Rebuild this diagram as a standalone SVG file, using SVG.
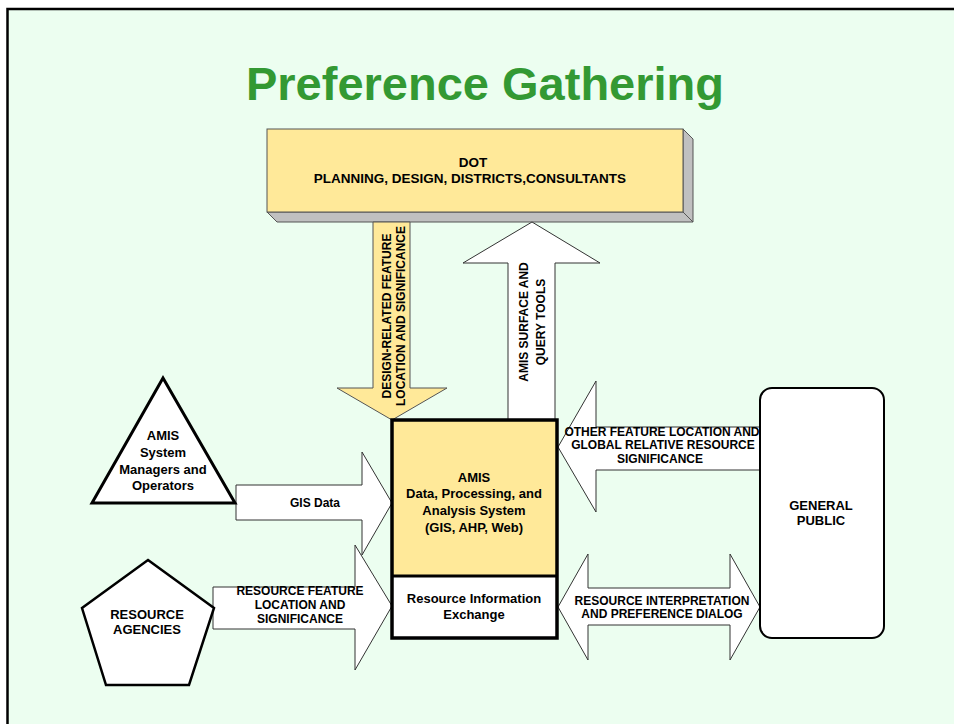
<svg xmlns="http://www.w3.org/2000/svg" width="954" height="724" viewBox="0 0 954 724">
<style>
  text { font-family: "Liberation Sans", Arial, sans-serif; font-weight: bold; fill: #000; }
  .t12 { font-size: 12px; }
  .t13 { font-size: 13px; }
  .mid { text-anchor: middle; }
  .arrow { fill: #FFFFFF; stroke: #333333; stroke-width: 1; stroke-linejoin: miter; }
  .yarrow { fill: #FFE999; stroke: #555555; stroke-width: 1; }
  .shape { fill: #FFFFFF; stroke: #000000; stroke-width: 3; stroke-linejoin: miter; }
</style>
<rect x="0" y="0" width="954" height="724" fill="#FFFFFF"/>
<rect x="7.5" y="9" width="960" height="730" fill="#ECFEF0" stroke="#000000" stroke-width="2.5"/>

<text x="485" y="100" class="mid" style="font-size:47px; fill:#339933;">Preference Gathering</text>

<g id="dot">
  <polygon points="683,129 693,139 693,222 683,212" fill="#C0C0C0" stroke="#555555" stroke-width="1"/>
  <polygon points="267,212 683,212 693,222 277,222" fill="#C0C0C0" stroke="#555555" stroke-width="1"/>
  <rect x="267" y="129" width="416" height="83" fill="#FFE999" stroke="#555555" stroke-width="1"/>
  <text x="473" y="167" class="mid" style="font-size:13.5px">DOT</text>
  <text x="470" y="183" class="mid" style="font-size:13.5px">PLANNING, DESIGN, DISTRICTS,CONSULTANTS</text>
</g>

<g id="connectors">
  <g id="arrow-design">
    <polygon class="yarrow" points="373,222 410,222 410,388 447,388 392,420 337,388 373,388"/>
    <text class="t12 mid" transform="translate(391,316) rotate(-90)">DESIGN-RELATED FEATURE</text>
    <text class="t12 mid" transform="translate(405,316) rotate(-90)">LOCATION AND SIGNIFICANCE</text>
  </g>
  <g id="arrow-surface">
    <polygon class="arrow" points="508,420 508,263 463,263 532,222 600,263 555,263 555,420"/>
    <text class="t12 mid" transform="translate(528,322) rotate(-90)">AMIS SURFACE AND</text>
    <text class="t12 mid" transform="translate(545,322) rotate(-90)">QUERY TOOLS</text>
  </g>
  <g id="arrow-other">
    <polygon class="arrow" points="558,447 596,381 596,427 760,427 760,470 596,470 596,512"/>
    <text x="662" y="436" class="t12 mid">OTHER FEATURE LOCATION AND</text>
    <text x="663" y="449" class="t12 mid">GLOBAL RELATIVE RESOURCE</text>
    <text x="660" y="463" class="t12 mid">SIGNIFICANCE</text>
  </g>
  <g id="arrow-dialog">
    <polygon class="arrow" points="558,607 588,554 588,588 730,588 730,554 760,607 730,660 730,625 588,625 588,660"/>
    <text x="662" y="605" class="t12 mid">RESOURCE INTERPRETATION</text>
    <text x="662" y="618" class="t12 mid">AND PREFERENCE DIALOG</text>
  </g>
  <g id="arrow-resource">
    <polygon class="arrow" points="213,587 355,587 355,545 392,606 355,670 355,629 213,629"/>
    <text x="300" y="595" class="t12 mid">RESOURCE FEATURE</text>
    <text x="300" y="609" class="t12 mid">LOCATION AND</text>
    <text x="300" y="623" class="t12 mid">SIGNIFICANCE</text>
  </g>
  <g id="arrow-gis">
    <polygon class="arrow" points="236,485 362,485 362,452 392,503 362,555 362,520 236,520"/>
    <text x="315" y="507" class="t12 mid">GIS Data</text>
  </g>
</g>

<g id="amis">
  <rect x="392" y="420" width="165" height="156" fill="#FFE999"/>
  <rect x="392" y="576" width="165" height="62" fill="#FFFFFF"/>
  <rect x="392" y="420" width="165" height="218" fill="none" stroke="#000000" stroke-width="3.5"/>
  <line x1="392" y1="576" x2="557" y2="576" stroke="#000000" stroke-width="3"/>
  <text x="474" y="482" class="t13 mid">AMIS</text>
  <text x="474" y="498" class="t13 mid">Data, Processing, and</text>
  <text x="474" y="515" class="t13 mid">Analysis System</text>
  <text x="474" y="532" class="t13 mid">(GIS, AHP, Web)</text>
</g>
<g id="exchange">
  <text x="474" y="603" class="t13 mid">Resource Information</text>
  <text x="474" y="619" class="t13 mid">Exchange</text>
</g>

<g id="operators">
  <polygon class="shape" points="163,378 235,503 92,503"/>
  <text x="163" y="440" class="t13 mid">AMIS</text>
  <text x="163" y="457" class="t13 mid">System</text>
  <text x="163" y="474" class="t13 mid">Managers and</text>
  <text x="163" y="490" class="t13 mid">Operators</text>
</g>

<g id="agencies">
  <polygon class="shape" points="148,560 214,608 189,685 106,685 82,608" style="stroke-width:2.5"/>
  <text x="147" y="619" class="t13 mid">RESOURCE</text>
  <text x="147" y="634" class="t13 mid">AGENCIES</text>
</g>

<g id="public">
  <rect x="760" y="388" width="124" height="250" rx="12" ry="12" fill="#FFFFFF" stroke="#000000" stroke-width="2"/>
  <text x="821" y="510" class="t13 mid">GENERAL</text>
  <text x="821" y="525" class="t13 mid">PUBLIC</text>
</g>
</svg>
